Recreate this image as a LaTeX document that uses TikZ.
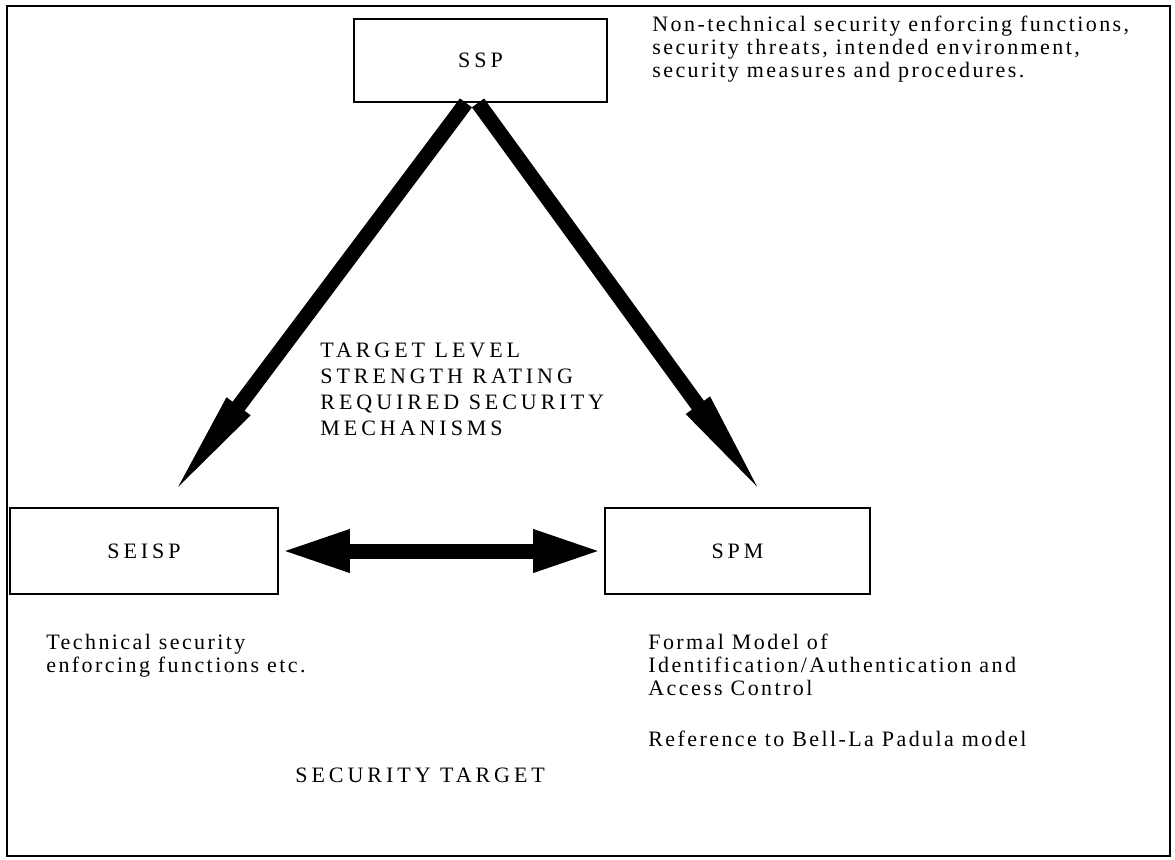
\documentclass[tikz,border=0pt]{standalone}
\usepackage{fontspec}
\setmainfont{Liberation Serif}
\newfontfamily\labelfont[LetterSpace=18]{Liberation Serif}
\newfontfamily\notefont[LetterSpace=11]{Liberation Serif}
\usetikzlibrary{arrows.meta, calc}

\begin{document}
\begin{tikzpicture}[x=0.5pt, y=-0.5pt,
  stbox/.style={draw, line width=0.9pt, inner sep=0pt, font=\fontsize{11}{13}\selectfont\labelfont},
  note/.style={anchor=north west, align=left, inner sep=0pt, font=\fontsize{11}{11.5}\selectfont\notefont},
  caps/.style={anchor=north west, align=left, inner sep=0pt, font=\fontsize{11}{13}\selectfont\labelfont},
  diagarrow/.style={line width=7.5pt, -{Triangle[length=63pt, width=12.5pt]}},
  bothways/.style={line width=7.5pt, {Triangle[length=34.5pt, width=19.5pt]}-{Triangle[length=34.5pt, width=19.5pt]}}
]
  \useasboundingbox (0,0) rectangle (1175,859);

  % Frame
  \draw[line width=0.9pt] (7,6) rectangle (1170,856);

  % The three parts
  \node[stbox, minimum width=126.5pt, minimum height=41.5pt] (ssp) at (480.5,60.5) {SSP};
  \node[stbox, minimum width=134pt, minimum height=43pt] (seisp) at (144,551) {SEISP};
  \node[stbox, minimum width=132.5pt, minimum height=43pt] (spm) at (737.5,551) {SPM};

  % Arrows
  \draw[diagarrow] ($(ssp.south)+(-14.5,0)$) -- ($(seisp.north)+(19,0)$);
  \draw[diagarrow] ($(ssp.south)+(-2.5,0)$) -- ($(spm.north)+(34.5,0)$);
  \draw[bothways] ($(seisp.east)+(2,0)$) -- ($(spm.west)+(-2,0)$);

  % Notes
  \node[note] (sspnote) at (652,16) {Non-technical security enforcing functions,\\
    security threats, intended environment,\\
    security measures and procedures.};

  \node[caps] (level) at (320,343) {TARGET LEVEL\\
    STRENGTH RATING\\
    REQUIRED SECURITY\\
    MECHANISMS};

  \node[note] (seispnote) at (46,634) {Technical security\\
    enforcing functions etc.};

  \node[note] (spmnote) at (648,634) {Formal Model of\\
    Identification/Authentication and\\
    Access Control\\[14pt]
    Reference to Bell-La Padula model};

  \node[caps] (target) at (295,768) {SECURITY TARGET};
\end{tikzpicture}
\end{document}
